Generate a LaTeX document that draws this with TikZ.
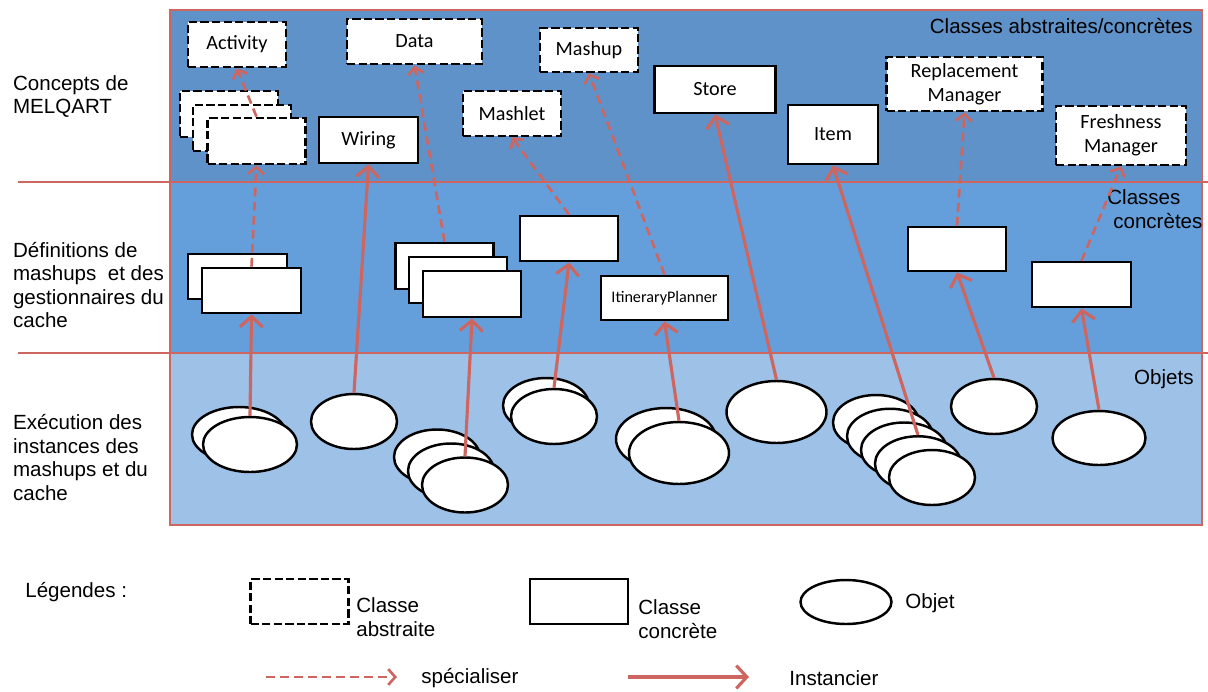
\documentclass[tikz,border=0pt]{standalone}
\usepackage{fontspec}
\setmainfont{Liberation Sans}
\newfontfamily\boxfont{Carlito}
\usetikzlibrary{arrows.meta, shapes.geometric, positioning}
\definecolor{linkred}{RGB}{205,102,96}
\definecolor{bandtop}{RGB}{95,146,200}
\definecolor{bandmid}{RGB}{101,159,219}
\definecolor{bandlow}{RGB}{158,193,232}
\newlength\pxu
\setlength\pxu{0.02cm}

\begin{document}
\begin{tikzpicture}[x=0.02cm, y=-0.02cm,
 abox/.style={draw, line width=1.5pt, dash pattern=on 4.7pt off 1.9pt, fill=white, inner sep=0pt,
 align=center, font=\boxfont\fontsize{11.5}{13.7}\selectfont},
 cbox/.style={abox, solid},
 wh/.style 2 args={minimum width=#1*\pxu, minimum height=#2*\pxu},
 obj/.style={ellipse, draw, line width=1.4pt, fill=white, inner sep=0pt, wh={86}{55}},
 spec/.style={linkred, line width=1.5pt, dash pattern=on 5pt off 3pt, -{Straight Barb[length=4pt,width=9pt]}},
 inst/.style={linkred, line width=1.8pt, -{Straight Barb[length=6pt,width=13pt]}},
 band/.style={draw=linkred, line width=1.5pt},
 lbl/.style={align=left, inner sep=0pt, font=\fontsize{11.7}{13.4}\selectfont}]
 \useasboundingbox (0,0) rectangle (1208,691);

 % bandes
 \draw[band, fill=bandtop] (170,10) rectangle (1202,182);
 \draw[band, fill=bandmid] (170,182) rectangle (1202,353);
 \draw[band, fill=bandlow] (170,353) rectangle (1202,525);
 \draw[band] (18,182) -- (1208,182);
 \draw[band] (18,353) -- (1208,353);

 \node[lbl, anchor=west] (lconcepts) at (12.7,96.5) {Concepts de\\MELQART};
 \node[lbl, anchor=west] (ldefs) at (12.7,285) {Définitions de\\mashups~ et des\\gestionnaires du\\cache};
 \node[lbl, anchor=west] (lexec) at (12.7,457.5) {Exécution des\\instances des\\mashups et du\\cache};
 \node[lbl, anchor=east] (ltop) at (1193,26) {Classes abstraites/concrètes};
 \node[lbl, anchor=west] (lmid) at (1107,209) {Classes\\\hspace{3.4pt}concrètes};
 \node[lbl, anchor=east] (llow) at (1194,379) {Objets};

 % classes abstraites/concretes
 \node[abox, wh={98}{45}] (activity) at (237,44.5) {Activity};
 \foreach \i/\x/\y in {1/229/114, 2/242/128, 3/256.5/141}
 \node[abox, wh={98}{46}] (ast\i) at (\x,\y) {};
 \node[abox, wh={135}{45}] (data) at (414.5,41.5) {Data};
 \node[cbox, wh={99}{46}] (wiring) at (368.5,140) {Wiring};
 \node[abox, wh={98}{45}] (mashlet) at (512,113.5) {Mashlet};
 \node[abox, wh={98}{44}] (mashup) at (589,50) {Mashup};
 \node[cbox, wh={121}{47}] (store) at (715,89.5) {Store};
 \node[cbox, wh={90}{59}] (item) at (833,134.5) {Item};
 \node[abox, wh={156}{54}] (replace) at (964.5,84) {Replacement\\Manager};
 \node[abox, wh={130}{59}] (fresh) at (1121,135.5) {Freshness\\Manager};

 % classes concretes
 \foreach \i/\x/\y in {a/237.5/276.5, b/251.5/290.5}
 \node[cbox, wh={99}{45}] (mst\i) at (\x,\y) {};
 \foreach \i/\x/\y in {a/444.5/266, b/458/280, c/472/294}
 \node[cbox, wh={98}{46}] (mtr\i) at (\x,\y) {};
 \node[cbox, wh={98}{45}] (msingle) at (569,238.5) {};
 \node[cbox, wh={127}{44}, font=\boxfont\fontsize{9.2}{11}\selectfont] (planner) at (664.5,298) {ItineraryPlanner};
 \node[cbox, wh={98}{44}] (mboxa) at (957,249) {};
 \node[cbox, wh={99}{45}] (mboxb) at (1081.5,284.5) {};

 % objets
 \foreach \i/\x/\y in {a/239/434.5, b/250/444.5}
 \node[obj, wh={94}{55}] (og1\i) at (\x,\y) {};
 \node[obj] (owiring) at (354,421.5) {};
 \foreach \i/\x/\y in {a/437/457, b/451/471, c/465/485}
 \node[obj] (og3\i) at (\x,\y) {};
 \foreach \i/\x/\y in {a/546/405.5, b/554/416.5}
 \node[obj] (og4\i) at (\x,\y) {};
 \foreach \i/\x/\y in {a/666/439, b/679/453}
 \node[obj, wh={100}{62}] (og5\i) at (\x,\y) {};
 \node[obj, wh={100}{62}] (ostore) at (776.5,412) {};
 \foreach \i in {1,...,5}
 \node[obj] (oitem\i) at ({876+14*(\i-1)},{422.5+13.75*(\i-1)}) {};
 \node[obj] (oreplace) at (994,406.5) {};
 \node[obj, wh={93}{54}] (ofresh) at (1099,438) {};

 % specialiser
 \draw[spec] (ast3.north) -- (activity.south);
 \draw[spec] (mstb.north) -- (ast3.south);
 \draw[spec] (mtra.north) -- (data.south);
 \draw[spec] (msingle.north) -- (mashlet.south);
 \draw[spec] (planner.north) -- (mashup.south);
 \draw[spec] (mboxa.north) -- (replace.south);
 \draw[spec] (mboxb.north) -- (fresh.south);

 % instancier
 \draw[inst] (og1b.north) -- (mstb.south);
 \draw[inst] (owiring.north) -- (wiring.south);
 \draw[inst] (og3c.north) -- (mtrc.south);
 \draw[inst] (og4b.north) -- (msingle.south);
 \draw[inst] (og5b.north) -- (planner.south);
 \draw[inst] (ostore.north) -- (store.south);
 \draw[inst] (oitem4.north) -- (item.south);
 \draw[inst] (oreplace.north) -- (mboxa.south);
 \draw[inst] (ofresh.north) -- (mboxb.south);

 % legende
 \node[lbl, anchor=west] (legtitle) at (25,592) {Légendes :};
 \node[abox, wh={98}{45}] (legabs) at (299.5,601.5) {};
 \node[lbl, anchor=west] (legabst) at (356,617) {Classe\\abstraite};
 \node[cbox, wh={98}{45}] (legcon) at (579,601.5) {};
 \node[lbl, anchor=west] (legcont) at (638,619) {Classe\\concrète};
 \node[obj, wh={91}{44}] (legobj) at (846,602) {};
 \node[lbl, anchor=west] (legobjt) at (905,603) {Objet};
 \coordinate (specA) at (266,677);
 \coordinate (specB) at (397,677);
 \draw[spec] (specA) -- (specB);
 \node[lbl, anchor=west] (legspec) at (421,678) {spécialiser};
 \coordinate (instA) at (628,677);
 \coordinate (instB) at (749,677);
 \draw[inst] (instA) -- (instB);
 \node[lbl, anchor=west] (leginst) at (789,678) {Instancier};
\end{tikzpicture}
\end{document}
